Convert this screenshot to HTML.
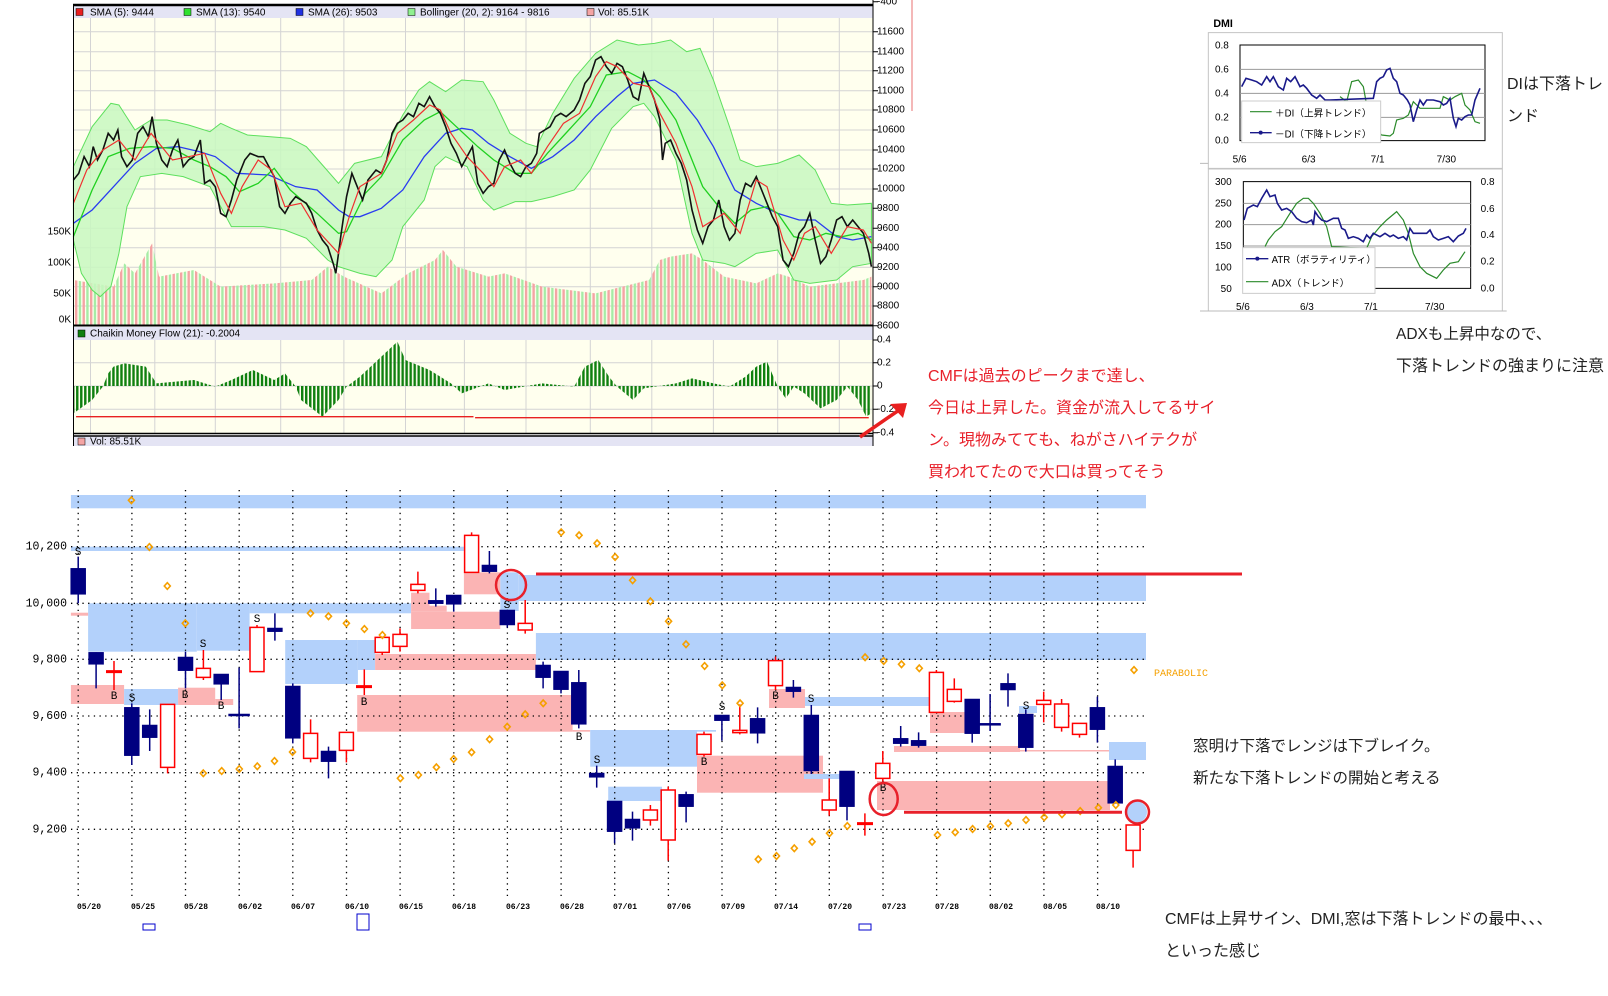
<!DOCTYPE html>
<html><head><meta charset="utf-8">
<style>
html,body{margin:0;padding:0;background:#fff;}
svg{display:block;}
.t{font-family:"Liberation Sans","Noto Sans CJK JP",sans-serif;}
.m{font-family:"Liberation Mono","DejaVu Sans Mono",monospace;}
</style></head>
<body>
<svg width="1608" height="996" viewBox="0 0 1608 996" xmlns="http://www.w3.org/2000/svg">
<defs>
<pattern id="vol" patternUnits="userSpaceOnUse" width="14" height="10">
<rect x="0" y="0" width="4.5" height="10" fill="#f4a4a4"/>
<rect x="7" y="0" width="4.5" height="10" fill="#a6eca6"/>
</pattern>
<pattern id="cmf" patternUnits="userSpaceOnUse" width="7.5" height="10">
<rect x="0" y="0" width="4.5" height="10" fill="#0f800f"/>
</pattern>
</defs>

<!-- ============ TOP CHART ============ -->
<rect x="73" y="5" width="800" height="320" fill="#ffffee"/>
<rect x="73" y="5" width="800" height="13" fill="#e4e4f4"/>
<rect x="73" y="327" width="800" height="13" fill="#e4e4f4"/>
<rect x="73" y="340" width="800" height="93" fill="#ffffee"/>
<rect x="73" y="436" width="800" height="10" fill="#e4e4f4"/>
<g stroke="#d4d4d4" stroke-width="1">
<path d="M90.5 18V325M154.8 18V325M215.3 18V325M280.7 18V325M343.9 18V325M405.5 18V325M464.4 18V325M526 18V325M590.3 18V325M651.8 18V325M713.4 18V325M777.7 18V325M839.3 18V325"/>
<path d="M73 31.7H873M73 51.7H873M73 70.7H873M73 90.7H873M73 110H873M73 130H873M73 150H873M73 169H873M73 189H873M73 208.3H873M73 228.3H873M73 247.7H873M73 267.3H873M73 286.7H873M73 306H873"/>
<path d="M90.5 340V433M154.8 340V433M215.3 340V433M280.7 340V433M343.9 340V433M405.5 340V433M464.4 340V433M526 340V433M590.3 340V433M651.8 340V433M713.4 340V433M777.7 340V433M839.3 340V433"/>
<path d="M73 362.7H873M73 386H873M73 409.3H873"/>
</g>

<g transform="translate(60,0) scale(0.5356,0.33333)">
<polygon fill="url(#vol)" points="25,840 100,860 120,790 140,820 172,730 185,830 250,810 300,860 400,850 470,840 500,800 530,830 600,880 650,820 700,780 715,750 740,800 800,830 830,820 900,860 1000,880 1050,860 1100,840 1120,780 1140,770 1180,760 1200,780 1240,830 1300,850 1340,820 1360,830 1400,860 1500,840 1515,830 1515,975 25,975"/>
<polygon fill="#c8f8c0" fill-opacity="0.85" stroke="#5ee05e" stroke-width="1" vector-effect="non-scaling-stroke" points="25,500 60,380 95,310 110,315 140,390 170,360 200,360 240,375 280,395 300,370 320,385 350,405 390,410 430,415 460,440 490,495 520,550 550,490 600,470 640,345 670,270 690,245 720,275 750,240 790,245 810,300 840,400 870,430 890,440 920,340 960,235 1000,160 1040,120 1080,135 1110,130 1140,120 1170,155 1195,145 1220,240 1250,380 1270,480 1300,500 1340,490 1380,465 1410,510 1440,610 1470,615 1515,610 1515,790 1480,800 1450,840 1400,850 1370,840 1340,750 1300,760 1260,800 1240,790 1200,780 1180,700 1150,480 1110,350 1090,310 1070,320 1030,385 990,510 960,570 920,590 880,605 850,605 810,630 790,600 760,500 720,470 700,500 680,600 640,680 620,780 590,830 560,820 520,800 500,780 460,715 420,690 380,680 320,680 280,560 230,530 190,520 150,530 125,620 110,760 95,860 75,890 60,870 40,820 25,720"/>
<polyline fill="none" stroke="#2a3cf0" stroke-width="1.3" vector-effect="non-scaling-stroke" points="25,670 60,630 100,560 140,490 180,445 220,440 260,455 290,470 330,520 390,525 440,560 480,570 520,630 540,650 560,650 600,625 640,570 680,470 720,400 750,385 770,390 800,430 840,470 880,505 920,470 960,420 1000,350 1040,290 1070,250 1110,240 1150,280 1190,360 1220,440 1260,570 1300,610 1340,640 1380,660 1410,660 1450,710 1480,720 1515,710"/>
<polyline fill="none" stroke="#20d020" stroke-width="1.3" vector-effect="non-scaling-stroke" points="25,710 60,570 90,470 130,445 170,440 210,445 250,480 280,500 310,530 335,575 370,550 400,505 430,570 480,640 520,700 535,695 570,580 600,530 640,420 680,360 710,335 740,380 780,440 810,480 850,520 880,520 910,460 950,390 990,320 1020,225 1060,215 1090,240 1120,290 1150,360 1180,480 1200,560 1230,620 1260,670 1290,630 1320,620 1340,640 1370,710 1400,720 1430,700 1460,710 1490,700 1515,720"/>
<polyline fill="none" stroke="#111" stroke-width="1.6" vector-effect="non-scaling-stroke" points="25,540 35,520 45,470 55,500 62,440 70,480 80,450 90,400 100,420 108,390 115,470 125,500 135,480 145,400 155,380 165,410 172,350 180,430 190,480 200,500 210,450 220,420 230,500 240,480 250,470 262,420 270,550 280,540 290,560 300,640 310,650 320,600 330,540 345,480 355,460 370,470 380,470 390,500 400,530 410,620 420,640 430,610 440,590 450,600 460,610 470,640 480,690 490,720 500,740 510,790 515,820 525,700 535,590 545,520 555,560 565,600 575,540 590,510 600,520 610,480 620,400 630,370 640,360 650,340 660,350 670,310 680,320 690,290 700,320 710,340 720,380 730,430 740,460 750,500 760,470 770,440 780,550 790,580 800,560 810,550 820,480 830,450 840,490 850,520 860,530 870,500 880,490 890,460 895,400 905,390 915,380 925,350 935,340 945,350 960,330 970,300 980,250 990,230 1000,180 1010,170 1020,200 1030,220 1040,190 1050,200 1060,240 1070,290 1080,300 1090,220 1100,260 1110,300 1120,360 1125,480 1130,430 1140,420 1150,460 1160,490 1170,540 1180,630 1190,690 1200,730 1210,680 1220,660 1230,600 1240,680 1250,720 1260,700 1270,600 1280,550 1290,560 1300,530 1310,570 1320,610 1330,650 1340,680 1350,780 1360,800 1370,760 1380,700 1390,680 1400,640 1410,720 1420,790 1430,770 1440,720 1450,660 1460,650 1470,680 1480,660 1490,680 1500,700 1510,760 1515,800"/>
<polyline fill="none" stroke="#f03030" stroke-width="1.2" vector-effect="non-scaling-stroke" points="25,610 50,510 80,450 110,420 140,480 170,400 210,480 240,470 270,460 300,580 320,640 340,560 370,480 395,510 420,620 450,610 480,690 520,760 540,650 560,560 600,520 630,400 660,360 690,315 710,330 730,400 760,470 790,520 810,560 830,500 860,480 880,520 910,440 940,370 970,340 1000,230 1020,185 1040,200 1070,250 1100,260 1120,340 1150,430 1180,560 1200,680 1220,660 1240,640 1270,700 1300,540 1320,560 1350,720 1370,780 1390,700 1410,680 1440,760 1470,680 1500,690 1515,730"/>
<polygon fill="url(#cmf)" points="25,1240 60,1200 80,1160 90,1120 100,1100 120,1090 160,1100 180,1150 250,1140 290,1160 320,1140 360,1110 400,1140 420,1120 440,1160 450,1200 490,1250 520,1200 535,1160 560,1130 580,1100 600,1070 630,1025 645,1080 690,1110 730,1150 750,1180 800,1150 830,1170 900,1150 960,1160 980,1100 1005,1080 1025,1130 1040,1160 1070,1200 1090,1165 1150,1150 1180,1135 1220,1150 1250,1160 1280,1130 1300,1100 1320,1085 1340,1160 1355,1195 1370,1160 1390,1180 1420,1225 1450,1200 1470,1160 1490,1200 1505,1250 1515,1240 1515,1158 25,1158"/>
<path d="M30 1250H772M775 1253H1510" stroke="#e82020" stroke-width="1.3" vector-effect="non-scaling-stroke" fill="none"/>
</g>

<g stroke="#000" fill="none">
<path d="M73 5H873" stroke-width="2.5"/>
<path d="M73 325.5H873" stroke-width="2"/>
<path d="M73 433.5H873M73 436H873" stroke-width="1.5"/>
<path d="M73.5 5V446M873 0V446" stroke-width="1"/>
<path d="M873 1.7h5M873 31.7h5M873 51.7h5M873 70.7h5M873 90.7h5M873 110h5M873 130h5M873 150h5M873 169h5M873 189h5M873 208.3h5M873 228.3h5M873 247.7h5M873 267.3h5M873 286.7h5M873 306h5M873 325.7h5M873 340h5M873 362.7h5M873 386h5M873 409.3h5M873 432.7h5" stroke-width="1"/>
</g>
<path d="M912 0V111" stroke="#e87070" stroke-width="1"/>
<g class="t" font-size="10" fill="#000" dominant-baseline="middle">
<rect x="76" y="8.5" width="7" height="7" fill="#e82020" stroke="#000" stroke-width="0.5"/><text x="90" y="13">SMA (5): 9444</text>
<rect x="184" y="8.5" width="7" height="7" fill="#30e030" stroke="#000" stroke-width="0.5"/><text x="196" y="13">SMA (13): 9540</text>
<rect x="296" y="8.5" width="7" height="7" fill="#2030e0" stroke="#000" stroke-width="0.5"/><text x="308" y="13">SMA (26): 9503</text>
<rect x="408" y="8.5" width="7" height="7" fill="#90f090" stroke="#000" stroke-width="0.5"/><text x="420" y="13">Bollinger (20, 2): 9164 - 9816</text>
<rect x="587" y="8.5" width="7" height="7" fill="#f4a4a4" stroke="#000" stroke-width="0.5"/><text x="598" y="13">Vol: 85.51K</text>
<rect x="78" y="330" width="7" height="7" fill="#0f800f" stroke="#000" stroke-width="0.5"/><text x="90" y="334">Chaikin Money Flow (21): -0.2004</text>
<rect x="78" y="438" width="7" height="7" fill="#f4a4a4" stroke="#000" stroke-width="0.5"/><text x="90" y="442">Vol: 85.51K</text>
<g>
<text x="877" y="2">-400</text><text x="877" y="31.7">11600</text><text x="877" y="51.7">11400</text><text x="877" y="70.7">11200</text><text x="877" y="90.7">11000</text><text x="877" y="110">10800</text><text x="877" y="130">10600</text><text x="877" y="150">10400</text><text x="877" y="169">10200</text><text x="877" y="189">10000</text><text x="877" y="208.3">9800</text><text x="877" y="228.3">9600</text><text x="877" y="247.7">9400</text><text x="877" y="267.3">9200</text><text x="877" y="286.7">9000</text><text x="877" y="306">8800</text><text x="877" y="325.7">8600</text>
<text x="877" y="340">0.4</text><text x="877" y="362.7">0.2</text><text x="877" y="386">0</text><text x="877" y="409.3">-0.2</text><text x="877" y="432.7">-0.4</text>
</g>
<g text-anchor="end"><text x="71" y="232">150K</text><text x="71" y="263">100K</text><text x="71" y="294">50K</text><text x="71" y="320">0K</text></g>
</g>
<path d="M860 437L902 408" stroke="#e82020" stroke-width="3.5" fill="none"/>
<path d="M890 404L907 403L903 418Z" fill="#e82020"/>

<!-- ============ DMI ============ -->
<g transform="translate(1160,20) scale(0.33333)">
<rect x="145" y="38" width="882" height="407" fill="#fff" stroke="#c4c4c4" stroke-width="1" vector-effect="non-scaling-stroke"/>
<rect x="145" y="447" width="882" height="426" fill="#fff" stroke="#c4c4c4" stroke-width="1" vector-effect="non-scaling-stroke"/>
<path d="M120 430H145M120 873H1040" stroke="#bbb" vector-effect="non-scaling-stroke"/>
<rect x="240" y="75" width="735" height="287" fill="#fff" stroke="#000" stroke-width="1" vector-effect="non-scaling-stroke"/>
<path d="M240 148H975M240 220H975M240 292H975" stroke="#999" vector-effect="non-scaling-stroke"/>
<rect x="250" y="485" width="682" height="320" fill="#fff" stroke="#000" stroke-width="1" vector-effect="non-scaling-stroke"/>
<path d="M250 550H932M250 614H932M250 678H932M250 743H932" stroke="#999" vector-effect="non-scaling-stroke"/>
<polyline fill="none" stroke="#2a8a2a" stroke-width="1.2" vector-effect="non-scaling-stroke" points="540,230 560,245 575,185 595,180 610,200 620,255 635,290 650,330 665,345 690,348 700,340 710,300 730,295 745,285 760,245 770,255 780,265 840,265 850,230 870,240 885,230 905,220 915,255 930,270 945,305 960,310"/>
<polyline fill="none" stroke="#1a1a8a" stroke-width="1.6" vector-effect="non-scaling-stroke" points="245,200 258,175 275,180 290,185 305,195 320,170 330,185 340,170 355,200 370,210 380,175 392,185 405,170 420,200 430,195 440,205 455,225 470,235 480,225 495,240 510,240 640,235 650,185 660,175 670,170 680,150 690,145 700,175 710,185 720,220 730,225 742,240 750,255 760,305 770,270 780,240 790,255 800,240 820,240 840,245 850,255 860,250 870,235 880,295 888,320 895,295 905,300 915,290 925,285 935,285 945,240 960,205"/>
<polyline fill="none" stroke="#2a8a2a" stroke-width="1.2" vector-effect="non-scaling-stroke" points="315,680 325,660 345,635 365,620 390,580 410,550 430,535 445,535 460,550 480,580 500,620 515,680 620,685 635,650 660,620 680,600 710,575 730,600 745,640 760,700 780,740 800,760 830,775 850,750 870,730 895,725 915,695"/>
<polyline fill="none" stroke="#1a1a8a" stroke-width="1.6" vector-effect="non-scaling-stroke" points="252,600 262,565 280,555 292,560 305,535 320,510 330,530 345,525 352,550 365,570 380,565 395,575 410,595 425,605 440,608 455,600 460,615 465,575 475,590 485,600 500,605 520,595 535,595 545,625 555,630 565,655 580,650 595,655 610,665 620,645 630,655 640,640 660,650 675,640 690,650 700,645 715,655 730,650 740,660 750,625 760,640 780,640 800,640 810,630 820,650 835,660 850,655 865,650 880,665 895,648 910,640 918,625"/>
<rect x="245" y="243" width="417" height="125" fill="#fff" stroke="#ccc" vector-effect="non-scaling-stroke"/>
<rect x="248" y="683" width="397" height="137" fill="#fff" stroke="#ccc" vector-effect="non-scaling-stroke"/>
<path d="M270 275H335M258 785H325" stroke="#2a8a2a" stroke-width="1.2" vector-effect="non-scaling-stroke"/>
<path d="M270 338H335M258 716H325" stroke="#1a1a8a" stroke-width="1.4" vector-effect="non-scaling-stroke"/>
<circle cx="302" cy="338" r="6" fill="#1a1a8a"/><circle cx="292" cy="716" r="6" fill="#1a1a8a"/>
<g class="t" font-size="30" fill="#000" dominant-baseline="middle">
<text x="160" y="12" font-weight="bold" font-size="32">DMI</text>
<text x="165" y="77">0.8</text><text x="165" y="150">0.6</text><text x="165" y="222">0.4</text><text x="165" y="294">0.2</text><text x="165" y="362">0.0</text>
<text x="218" y="420">5/6</text><text x="425" y="420">6/3</text><text x="632" y="420">7/1</text><text x="830" y="420">7/30</text>
<text x="165" y="487">300</text><text x="165" y="551">250</text><text x="165" y="615">200</text><text x="165" y="679">150</text><text x="165" y="744">100</text><text x="182" y="808">50</text>
<text x="962" y="487">0.8</text><text x="962" y="568">0.6</text><text x="962" y="646">0.4</text><text x="962" y="726">0.2</text><text x="962" y="807">0.0</text>
<text x="228" y="862">5/6</text><text x="420" y="862">6/3</text><text x="612" y="862">7/1</text><text x="795" y="862">7/30</text>
<text x="345" y="282" font-size="29">＋DI（上昇トレンド）</text>
<text x="345" y="345" font-size="29">－DI（下降トレンド）</text>
<text x="335" y="722" font-size="29">ATR（ボラティリティ）</text>
<text x="335" y="792" font-size="29">ADX（トレンド）</text>
</g>
</g>

<!-- ============ BOTTOM CHART ============ -->
<g>
<rect x="70.9" y="495" width="1075.1" height="13.3" fill="#b3d1fb"/>
<rect x="70.9" y="546.7" width="393" height="4.3" fill="#b3d1fb"/>
<rect x="88.1" y="603.3" width="108.7" height="48.4" fill="#b3d1fb"/>
<rect x="196.8" y="603.3" width="52.8" height="47.4" fill="#b3d1fb"/>
<rect x="249.6" y="603.3" width="161.5" height="10" fill="#b3d1fb"/>
<rect x="70.9" y="612.7" width="17.2" height="3" fill="#fbb4b4"/>
<rect x="70.9" y="685" width="53.2" height="19" fill="#fbb4b4"/>
<rect x="124.1" y="689" width="54" height="16" fill="#b3d1fb"/>
<rect x="178.1" y="687.7" width="37.1" height="17.3" fill="#fbb4b4"/>
<rect x="215.2" y="699" width="18" height="6" fill="#fbb4b4"/>
<rect x="285.2" y="640" width="72.7" height="44" fill="#b3d1fb"/>
<rect x="357.9" y="640" width="17.2" height="30" fill="#b3d1fb"/>
<rect x="375.1" y="654" width="160.8" height="16" fill="#fbb4b4"/>
<rect x="357.2" y="695" width="215.4" height="36.7" fill="#fbb4b4"/>
<rect x="572.6" y="730" width="17.6" height="1.7" fill="#fbb4b4"/>
<rect x="411.1" y="611.7" width="89.2" height="17.3" fill="#fbb4b4"/>
<rect x="411.1" y="592.7" width="18.4" height="19" fill="#fbb4b4"/>
<rect x="429.5" y="605.7" width="17.2" height="6" fill="#fbb4b4"/>
<rect x="463.9" y="572.3" width="36.4" height="22" fill="#fbb4b4"/>
<rect x="500.3" y="572.3" width="18.4" height="38.7" fill="#b3d1fb"/>
<rect x="518.7" y="575" width="627.3" height="26" fill="#b3d1fb"/>
<rect x="535.9" y="633" width="610.1" height="27" fill="#b3d1fb"/>
<rect x="590.2" y="730" width="106.8" height="36.7" fill="#b3d1fb"/>
<rect x="697" y="730" width="19" height="1.7" fill="#b3d1fb"/>
<rect x="608.2" y="786.7" width="53.8" height="14.3" fill="#b3d1fb"/>
<rect x="697" y="755.7" width="126" height="37" fill="#fbb4b4"/>
<rect x="804" y="774" width="36" height="5" fill="#b3d1fb"/>
<rect x="769" y="689" width="36" height="19" fill="#fbb4b4"/>
<rect x="805" y="697" width="125" height="9" fill="#b3d1fb"/>
<rect x="930" y="712" width="35" height="21" fill="#fbb4b4"/>
<rect x="894" y="746" width="126" height="6" fill="#fbb4b4"/>
<rect x="1020" y="750" width="90" height="1.5" fill="#fbb4b4"/>
<rect x="1019" y="706" width="18" height="7" fill="#b3d1fb"/>
<rect x="877" y="781" width="233" height="29" fill="#fbb4b4"/>
<rect x="1109" y="742" width="37" height="18" fill="#b3d1fb"/>
<circle cx="1136" cy="812" r="11" fill="#b3d1fb"/>
</g>
<g stroke="#000" stroke-width="1.3" stroke-dasharray="1.3,4.4" fill="none">
<path d="M71 546.7H1146M71 603.3H1146M71 659.3H1146M71 716H1146M71 772.7H1146M71 829.3H1146"/>
<path d="M78.2 490V900M131.9 490V900M185.5 490V900M239.2 490V900M292.8 490V900M346.5 490V900M400.1 490V900M453.8 490V900M507.4 490V900M561.1 490V900M614.7 490V900M668.4 490V900M722 490V900M775.7 490V900M829.3 490V900M883 490V900M936.6 490V900M990.3 490V900M1043.9 490V900M1097.6 490V900"/>
</g>
<g class="m" font-size="11.5" fill="#000" text-anchor="end" dominant-baseline="middle">
<text x="67" y="546.7">10,200</text><text x="67" y="603.3">10,000</text><text x="67" y="659.3">9,800</text><text x="67" y="716">9,600</text><text x="67" y="772.7">9,400</text><text x="67" y="829.3">9,200</text>
</g>
<g class="m" font-size="8" font-weight="bold" fill="#000" dominant-baseline="middle">
<text x="77" y="907">05/20</text><text x="131" y="907">05/25</text><text x="184" y="907">05/28</text><text x="238" y="907">06/02</text><text x="291" y="907">06/07</text><text x="345" y="907">06/10</text><text x="399" y="907">06/15</text><text x="452" y="907">06/18</text><text x="506" y="907">06/23</text><text x="560" y="907">06/28</text><text x="613" y="907">07/01</text><text x="667" y="907">07/06</text><text x="721" y="907">07/09</text><text x="774" y="907">07/14</text><text x="828" y="907">07/20</text><text x="882" y="907">07/23</text><text x="935" y="907">07/28</text><text x="989" y="907">08/02</text><text x="1043" y="907">08/05</text><text x="1096" y="907">08/10</text>
</g>
<g fill="none" stroke="#0000cc" stroke-width="1"><rect x="143" y="924" width="12" height="6"/><rect x="357" y="914" width="12" height="16"/><rect x="859" y="924" width="12" height="6"/></g>

<g transform="translate(0,475) scale(1,0.33333)">
<g stroke="#000080" stroke-width="1.5" vector-effect="non-scaling-stroke" fill="#000080">
<path vector-effect="non-scaling-stroke" fill="none" d="M78.2 245V385M96.1 532V640M131.8 685V870M149.7 703V828M185.5 530V640M221.2 597V675M239.1 578V760M274.9 415V497M292.8 625V805M328.5 815V910M435.8 340V395M453.7 360V410M489.4 228V295M507.3 405V458M543.1 560V640M561 588V655M578.8 585V760M596.7 872V938M614.6 978V1105M632.5 1010V1097M686.1 950V1042M721.9 720V797M757.6 697V805M793.4 615V668M811.3 690V897M847 888V1036M900.7 753V815M918.6 772V818M972.2 672V803M990.1 657V768M1008 595V695M1025.8 703V830M1097.4 665V803M1115.2 853V985"/>
<rect x="71.2" y="280" width="14" height="78"/><rect x="89.1" y="532" width="14" height="36"/><rect x="124.8" y="697" width="14" height="145"/><rect x="142.7" y="750" width="14" height="38"/><rect x="178.5" y="546" width="14" height="41"/><rect x="214.2" y="597" width="14" height="31"/><rect x="229.1" y="717" width="20" height="6"/><rect x="267.9" y="459" width="14" height="11"/><rect x="285.8" y="633" width="14" height="157"/><rect x="321.5" y="828" width="14" height="32"/><rect x="428.8" y="376" width="14" height="10"/><rect x="446.7" y="360" width="14" height="28"/><rect x="482.4" y="270" width="14" height="20"/><rect x="500.3" y="405" width="14" height="45"/><rect x="536.1" y="570" width="14" height="38"/><rect x="554" y="588" width="14" height="56"/><rect x="571.8" y="622" width="14" height="126"/><rect x="589.7" y="894" width="14" height="13"/><rect x="607.6" y="978" width="14" height="92"/><rect x="625.5" y="1032" width="14" height="28"/><rect x="679.1" y="958" width="14" height="37"/><rect x="714.9" y="720" width="14" height="17"/><rect x="750.6" y="730" width="14" height="45"/><rect x="786.4" y="636" width="14" height="14"/><rect x="804.3" y="720" width="14" height="168"/><rect x="840" y="888" width="14" height="107"/><rect x="893.7" y="790" width="14" height="16"/><rect x="911.6" y="796" width="14" height="16"/><rect x="965.2" y="672" width="14" height="104"/><rect x="980.1" y="745" width="20" height="6"/><rect x="1001" y="625" width="14" height="20"/><rect x="1018.8" y="717" width="14" height="101"/><rect x="1090.4" y="697" width="14" height="67"/><rect x="1108.2" y="873" width="14" height="112"/>
</g>
<g stroke="#ff0000" stroke-width="1.5" fill="#fff">
<path vector-effect="non-scaling-stroke" fill="none" d="M167.6 688V895M203.4 525V615M257 450V590M310.6 733V862M346.4 772V862M382.2 487V540M400 460V530M417.9 290V355M471.6 172V292M525.2 375V476M650.4 990V1052M668.2 935V1157M704 770V845M739.8 688V778M775.5 545V645M829.2 910V1022M882.8 828V920M936.4 585V712M954.3 610V683M1043.7 650V742M1061.6 672V770M1079.5 745V788M1133.1 1050V1178M114 558V645M364.3 583V660M864.9 1015V1082"/>
<g>
<rect vector-effect="non-scaling-stroke" x="160.6" y="688" width="14" height="189"/><rect vector-effect="non-scaling-stroke" x="196.4" y="580" width="14" height="27"/><rect vector-effect="non-scaling-stroke" x="250" y="457" width="14" height="133"/><rect vector-effect="non-scaling-stroke" x="303.6" y="775" width="14" height="75"/><rect vector-effect="non-scaling-stroke" x="339.4" y="772" width="14" height="54"/><rect vector-effect="non-scaling-stroke" x="375.2" y="487" width="14" height="45"/><rect vector-effect="non-scaling-stroke" x="393" y="478" width="14" height="36"/><rect vector-effect="non-scaling-stroke" x="410.9" y="328" width="14" height="18"/><rect vector-effect="non-scaling-stroke" x="464.6" y="181" width="14" height="111"/><rect vector-effect="non-scaling-stroke" x="518.2" y="445" width="14" height="20"/><rect vector-effect="non-scaling-stroke" x="643.4" y="1005" width="14" height="30"/><rect vector-effect="non-scaling-stroke" x="661.2" y="945" width="14" height="150"/><rect vector-effect="non-scaling-stroke" x="697" y="778" width="14" height="60"/><rect vector-effect="non-scaling-stroke" x="732.8" y="766" width="14" height="7"/><rect vector-effect="non-scaling-stroke" x="768.5" y="557" width="14" height="75"/><rect vector-effect="non-scaling-stroke" x="822.2" y="975" width="14" height="30"/><rect vector-effect="non-scaling-stroke" x="875.8" y="865" width="14" height="45"/><rect vector-effect="non-scaling-stroke" x="929.4" y="592" width="14" height="120"/><rect vector-effect="non-scaling-stroke" x="947.3" y="643" width="14" height="36"/><rect vector-effect="non-scaling-stroke" x="1036.7" y="676" width="14" height="12"/><rect vector-effect="non-scaling-stroke" x="1054.6" y="687" width="14" height="70"/><rect vector-effect="non-scaling-stroke" x="1072.5" y="745" width="14" height="33"/><rect vector-effect="non-scaling-stroke" x="1126.1" y="1050" width="14" height="76"/>
</g>
<path vector-effect="non-scaling-stroke" stroke-width="3" fill="none" d="M106 590H122M356 635H372M857 1046H873"/>
</g>
</g>
<g class="m" font-size="11" fill="#000" text-anchor="middle" dominant-baseline="middle">
<text x="78" y="552">S</text><text x="114" y="696">B</text><text x="132" y="698">S</text><text x="185" y="695">B</text><text x="203" y="644">S</text><text x="221" y="706">B</text><text x="257" y="619">S</text><text x="364" y="702">B</text><text x="507" y="605">S</text><text x="579" y="737">B</text><text x="597" y="760">S</text><text x="704" y="762">B</text><text x="722" y="707">S</text><text x="775.5" y="696">B</text><text x="811" y="699">S</text><text x="883" y="788">B</text><text x="1026" y="706">S</text>
</g>
<g fill="none" stroke="#f5a000" stroke-width="1.6">
<path d="M131.4 497l3 3.3-3 3.3-3-3.3zM149.4 543.7l3 3.3-3 3.3-3-3.3zM167.3 582.7l3 3.3-3 3.3-3-3.3zM185.3 620l3 3.3-3 3.3-3-3.3zM203.3 770l3 3.3-3 3.3-3-3.3zM221.7 767.7l3 3.3-3 3.3-3-3.3zM239.3 765.7l3 3.3-3 3.3-3-3.3zM257.3 763l3 3.3-3 3.3-3-3.3zM274.5 757.7l3 3.3-3 3.3-3-3.3zM292.5 748.7l3 3.3-3 3.3-3-3.3zM310.5 610l3 3.3-3 3.3-3-3.3zM328.5 613l3 3.3-3 3.3-3-3.3zM346.4 620l3 3.3-3 3.3-3-3.3zM364.4 625.7l3 3.3-3 3.3-3-3.3zM382.4 631.7l3 3.3-3 3.3-3-3.3zM400.4 775l3 3.3-3 3.3-3-3.3zM418.4 771.7l3 3.3-3 3.3-3-3.3zM436.4 764l3 3.3-3 3.3-3-3.3zM453.6 755.7l3 3.3-3 3.3-3-3.3zM471.6 749l3 3.3-3 3.3-3-3.3zM489.6 736l3 3.3-3 3.3-3-3.3zM507.2 723.4l3 3.3-3 3.3-3-3.3zM525.2 711l3 3.3-3 3.3-3-3.3zM543.2 700l3 3.3-3 3.3-3-3.3zM561.2 529l3 3.3-3 3.3-3-3.3zM579.1 532l3 3.3-3 3.3-3-3.3zM597.1 540l3 3.3-3 3.3-3-3.3zM615.1 553.7l3 3.3-3 3.3-3-3.3zM632.6 577l3 3.3-3 3.3-3-3.3zM650.4 598l3 3.3-3 3.3-3-3.3zM668.6 618l3 3.3-3 3.3-3-3.3zM686 641l3 3.3-3 3.3-3-3.3zM704.6 662.7l3 3.3-3 3.3-3-3.3zM722.3 682l3 3.3-3 3.3-3-3.3zM740.1 700l3 3.3-3 3.3-3-3.3zM758.3 856l3 3.3-3 3.3-3-3.3zM776.5 852.7l3 3.3-3 3.3-3-3.3zM794.3 845l3 3.3-3 3.3-3-3.3zM812.1 838.4l3 3.3-3 3.3-3-3.3zM829.5 830l3 3.3-3 3.3-3-3.3zM847.3 822.7l3 3.3-3 3.3-3-3.3zM865.1 654l3 3.3-3 3.3-3-3.3zM883.7 657.7l3 3.3-3 3.3-3-3.3zM901.5 661l3 3.3-3 3.3-3-3.3zM919.3 665l3 3.3-3 3.3-3-3.3zM937.5 831.7l3 3.3-3 3.3-3-3.3zM955.2 829l3 3.3-3 3.3-3-3.3zM972.6 825.7l3 3.3-3 3.3-3-3.3zM990.4 823l3 3.3-3 3.3-3-3.3zM1008.2 820l3 3.3-3 3.3-3-3.3zM1026 816.7l3 3.3-3 3.3-3-3.3zM1044.2 814l3 3.3-3 3.3-3-3.3zM1062 811l3 3.3-3 3.3-3-3.3zM1080.2 807.7l3 3.3-3 3.3-3-3.3zM1098.4 804.4l3 3.3-3 3.3-3-3.3zM1115.8 801.7l3 3.3-3 3.3-3-3.3zM1134 666.7l3 3.3-3 3.3-3-3.3z"/>
</g>
<text x="1154" y="676" class="m" font-size="10" fill="#f5a000">PARABOLIC</text>
<g stroke="#e8202a" fill="none">
<path d="M536 574H1242" stroke-width="3"/>
<circle cx="511" cy="585" r="15" stroke-width="2.5"/>
<ellipse cx="883.7" cy="799" rx="14" ry="16" stroke-width="2.5"/>
<path d="M904 812.3H1122" stroke-width="3"/>
<circle cx="1137.5" cy="812" r="11.5" stroke-width="2.5"/>
</g>

<g class="t" font-size="16" fill="#e8202a" dominant-baseline="middle">
<text x="928" y="377">CMFは過去のピークまで達し、</text>
<text x="928" y="409">今日は上昇した。資金が流入してるサイ</text>
<text x="928" y="441">ン。現物みてても、ねがさハイテクが</text>
<text x="928" y="473">買われてたので大口は買ってそう</text>
</g>
<g class="t" font-size="15.5" fill="#222" dominant-baseline="middle">
<text x="1507" y="85" font-size="16">DIは下落トレ</text>
<text x="1507" y="117" font-size="16">ンド</text>
<text x="1396" y="335">ADXも上昇中なので、</text>
<text x="1396" y="367" font-size="16">下落トレンドの強まりに注意</text>
<text x="1193" y="747">窓明け下落でレンジは下ブレイク。</text>
<text x="1193" y="779">新たな下落トレンドの開始と考える</text>
<text x="1165" y="920" font-size="16">CMFは上昇サイン、DMI,窓は下落トレンドの最中、、、</text>
<text x="1165" y="952" font-size="16">といった感じ</text>
</g>
</svg>
</body></html>
